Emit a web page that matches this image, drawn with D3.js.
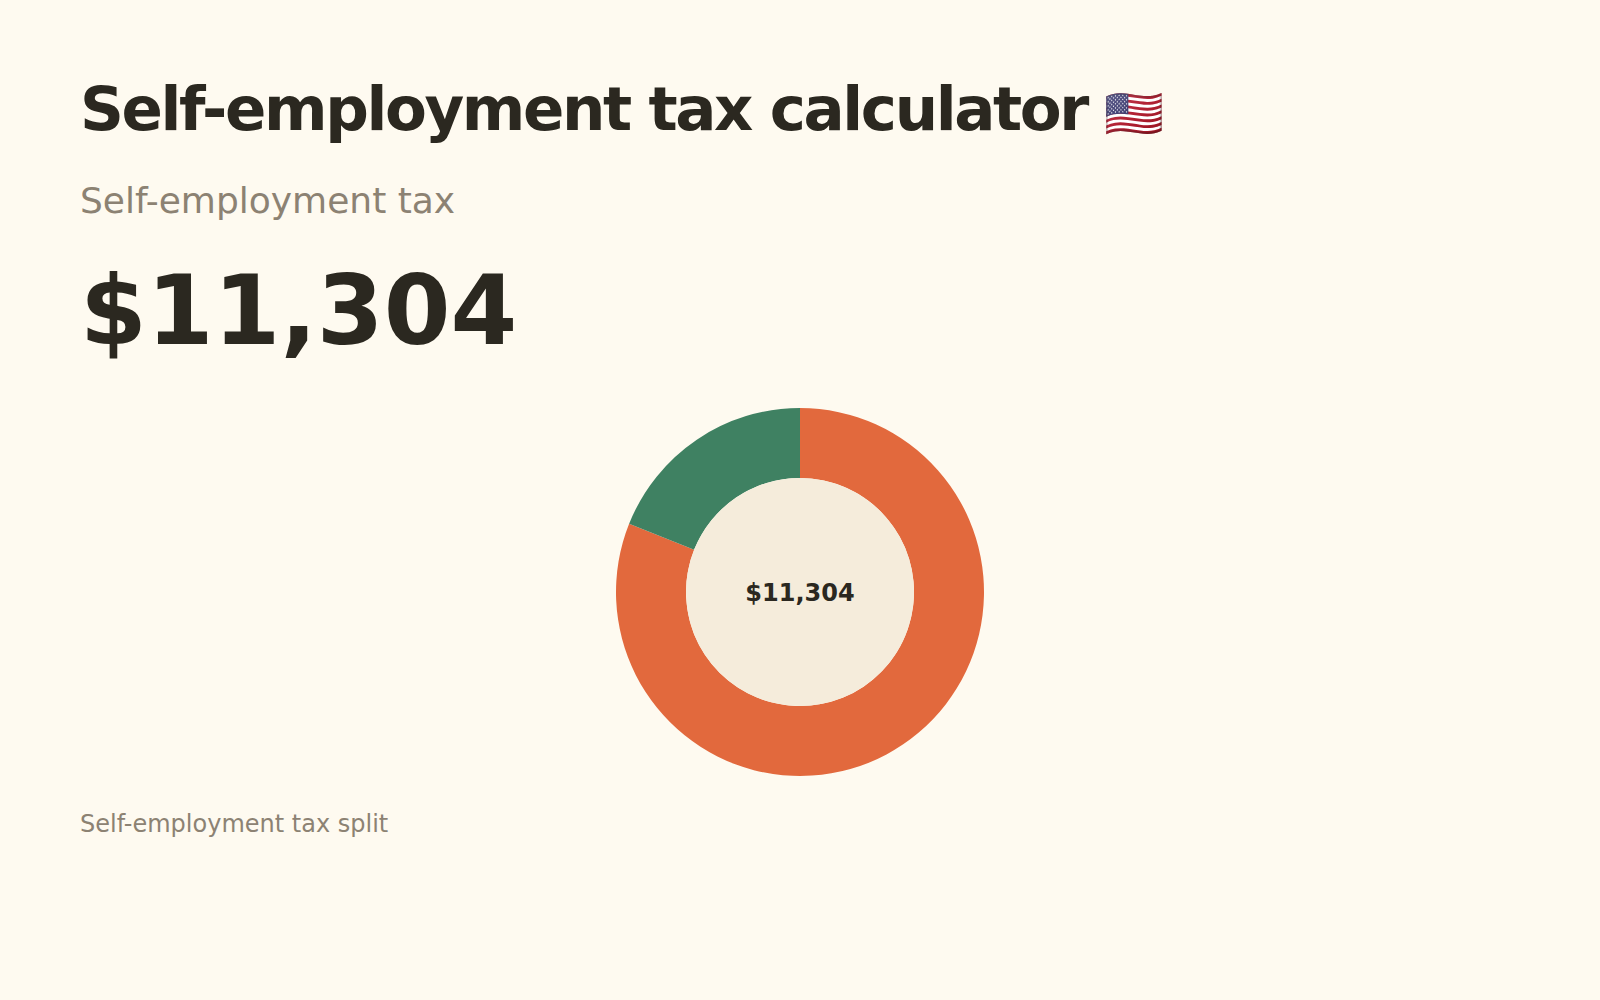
<!DOCTYPE html>
<html>
<head>
<meta charset="utf-8">
<script src="https://cdn.jsdelivr.net/npm/d3@7"></script>
<style>
  html, body { margin: 0; padding: 0; background: #fefaf0; }
  svg { display: block; }
</style>
</head>
<body>
<svg id="chart" width="1600" height="1000"></svg>
<script>
const categories = ["Social Security", "Medicare"];
const values = [9161.4, 2142.6];
const totalLabel = "$11,304";
const titleText = "Self-employment tax calculator";
const titleFlag = "🇺🇸";
const subtitleText = "Self-employment tax";
const footerText = "Self-employment tax split";

const colors = d3.scaleOrdinal().domain(categories).range(["#e2693d", "#3f8162"]);

const svg = d3.select("#chart");
svg.append("rect").attr("width", 1600).attr("height", 1000).attr("fill", "#fefaf0");

const font = "'DejaVu Sans', sans-serif";

const title = svg.append("text").attr("x", 80).attr("y", 130)
  .attr("font-family", font).attr("font-weight", "bold").attr("font-size", 61)
  .attr("letter-spacing", -2.4)
  .attr("fill", "#2b2820");
title.append("tspan").text(titleText);
title.append("tspan").attr("font-size", 48).attr("letter-spacing", 0).text(" " + titleFlag);

svg.append("text").attr("x", 80).attr("y", 213)
  .attr("font-family", font).attr("font-size", 36)
  .attr("fill", "#8c8273").text(subtitleText);

svg.append("text").attr("x", 80).attr("y", 344)
  .attr("font-family", font).attr("font-weight", "bold").attr("font-size", 96)
  .attr("fill", "#2b2820").text(totalLabel);

const cx = 800, cy = 592, outerR = 184, innerR = 114;
const data = categories.map((c, i) => ({ category: c, value: values[i] }));
const pie = d3.pie().value(d => d.value);
const arc = d3.arc().innerRadius(innerR).outerRadius(outerR);

const g = svg.append("g").attr("transform", `translate(${cx},${cy})`);
g.selectAll("path.slice").data(pie(data)).join("path")
  .attr("class", "slice")
  .attr("d", arc)
  .attr("fill", d => colors(d.data.category));

g.append("circle").attr("r", innerR).attr("fill", "#f5ecdb");

g.append("text").attr("text-anchor", "middle").attr("dominant-baseline", "central")
  .attr("y", 1)
  .attr("font-family", font).attr("font-weight", "bold").attr("font-size", 24)
  .attr("fill", "#2b2820").text(totalLabel);

svg.append("text").attr("x", 80).attr("y", 832)
  .attr("font-family", font).attr("font-size", 24)
  .attr("fill", "#8c8273").text(footerText);
</script>
</body>
</html>
